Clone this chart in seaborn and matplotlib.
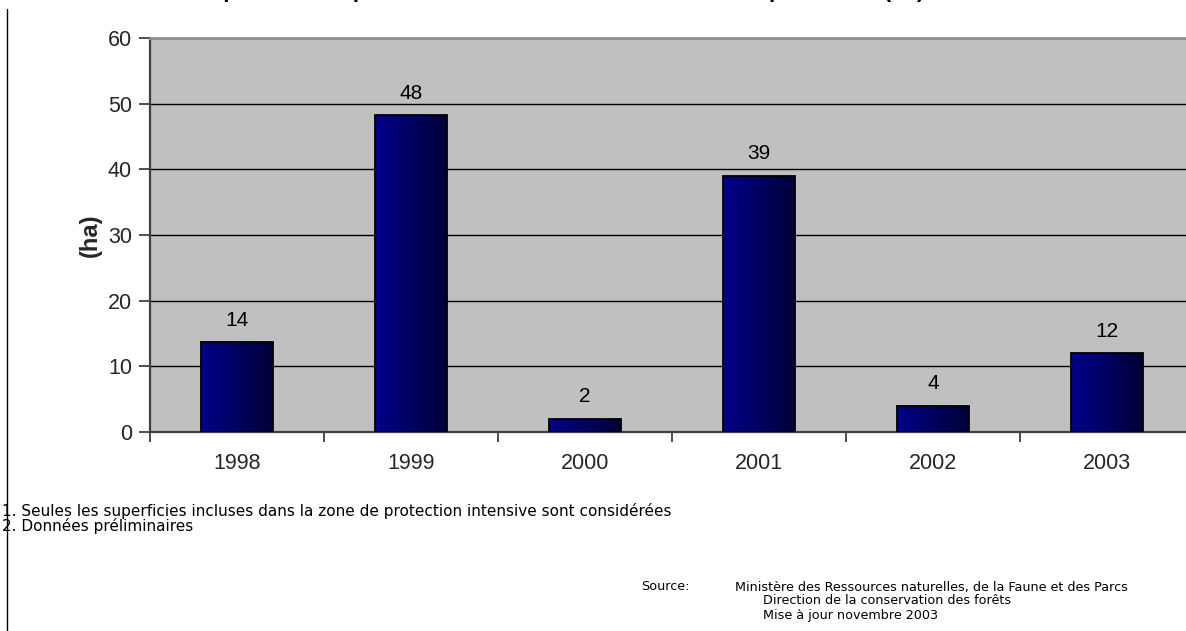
import numpy as np
import pandas as pd
import matplotlib
matplotlib.use("Agg")
import matplotlib.pyplot as plt
from matplotlib.colors import LinearSegmentedColormap
from matplotlib.lines import Line2D
import seaborn as sns

# ---- data ----
years = ["1998", "1999", "2000", "2001", "2002", "2003"]
superficies = [13.7, 48.2, 2.0, 39.0, 4.0, 12.0]
value_labels = ["14", "48", "2", "39", "4", "12"]
y_ticks = [0, 10, 20, 30, 40, 50, 60]

title_text = "Superficie des plantations incendiées dans la zone de protection (ha)"
footnotes = ["1. Seules les superficies incluses dans la zone de protection intensive sont considérées",
             "2. Données préliminaires"]
source_label = "Source:"
source_lines = ["Ministère des Ressources naturelles, de la Faune et des Parcs",
                "Direction de la conservation des forêts",
                "Mise à jour novembre 2003"]

sns.set_theme(style="white")
plt.rcParams['font.family'] = ['Liberation Sans', 'DejaVu Sans']

W, H = 1186, 631
fig = plt.figure(figsize=(W / 100, H / 100), dpi=100)
fig.patch.set_facecolor("white")

ax = fig.add_axes([150 / W, 1 - 432 / H, 1044 / W, 394 / H])
ax.set_facecolor("#C0C0C0")

df = pd.DataFrame({"annee": years, "ha": superficies})
sns.barplot(data=df, x="annee", y="ha", ax=ax, width=0.41, color="#000080",
            edgecolor="black", linewidth=1.3, zorder=3)

ax.set_xlim(-0.5, 5.5)
ax.set_ylim(0, 60)
ax.set_yticks(y_ticks)
ax.set_yticklabels([str(t) for t in y_ticks])

# gridlines
ax.yaxis.grid(True, color="black", linewidth=1.0, zorder=1)
ax.set_axisbelow(True)

# gradient fill for bars
cmap = LinearSegmentedColormap.from_list("navygrad", ["#00008C", "#000036"])
grad = np.linspace(0, 1, 256).reshape(1, -1)
for p in ax.patches:
    x0, y0 = p.get_x(), p.get_y()
    w, h = p.get_width(), p.get_height()
    im = ax.imshow(grad, cmap=cmap, aspect="auto",
                   extent=[x0, x0 + w, y0, y0 + h], zorder=3.5, interpolation="bicubic")
    im.set_clip_path(p)
    p.set_facecolor("none")
    p.set_zorder(4)
ax.set_xlim(-0.5, 5.5)
ax.set_ylim(0, 60)

# value labels
for i, (v, lab) in enumerate(zip(superficies, value_labels)):
    ax.annotate(lab, xy=(i, v), xytext=(0, 9), textcoords="offset points",
                ha="center", va="bottom", fontsize=15, color="black")

# spines
for s in ["left", "bottom"]:
    ax.spines[s].set_visible(True)
    ax.spines[s].set_color("#404040")
    ax.spines[s].set_linewidth(1.6)
ax.spines["top"].set_visible(True)
ax.spines["top"].set_color("#909090")
ax.spines["top"].set_linewidth(2.0)
ax.spines["right"].set_visible(False)

# ticks
ax.set_xticks(range(len(years)))
ax.set_xticklabels(years)
ax.set_xticks(np.arange(-0.5, 5.6, 1.0), minor=True)
ax.tick_params(axis="x", which="major", length=0, pad=15, labelsize=15.5)
ax.tick_params(axis="x", which="minor", length=7, width=1.2, color="#303030", direction="out",
               bottom=True)
ax.tick_params(axis="y", length=8, width=1.2, color="#303030", direction="out", pad=5,
               labelsize=15.5, left=True)
ax.set_xlabel("")
ax.set_ylabel("(ha)", fontsize=17, fontweight="bold")
ax.yaxis.set_label_coords(-0.046, 0.5)

# chart frame line on the left
fig.add_artist(Line2D([7 / W, 7 / W], [0, 1 - 9 / H], transform=fig.transFigure,
                      color="black", linewidth=1.0))

# clipped title (only bottom visible in the reference)
fig.text(560 / W, 1 + 3 / H, title_text, ha="center", va="baseline",
         fontsize=16, fontweight="bold", color="black")

# footnotes
fig.text(2 / W, 1 - 511 / H, footnotes[0], ha="left", va="center", fontsize=11,
         color="black", family="DejaVu Sans")
fig.text(2 / W, 1 - 526 / H, footnotes[1], ha="left", va="center", fontsize=11,
         color="black", family="DejaVu Sans")

# source block
src_kw = dict(ha="left", va="center", fontsize=9.2, color="black", family="DejaVu Sans")
fig.text(641 / W, 1 - 587 / H, source_label, **src_kw)
fig.text(735 / W, 1 - 587 / H, source_lines[0], **src_kw)
fig.text(763 / W, 1 - 601 / H, source_lines[1], **src_kw)
fig.text(763 / W, 1 - 615 / H, source_lines[2], **src_kw)

fig.savefig("out.png", dpi=100, facecolor="white")
